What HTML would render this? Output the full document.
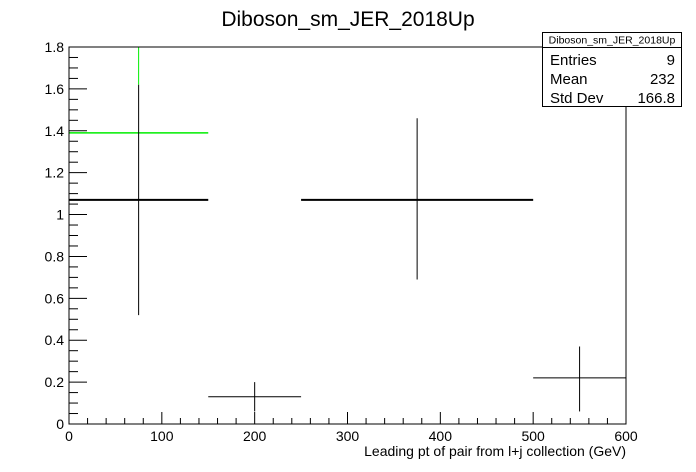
<!DOCTYPE html>
<html><head><meta charset="utf-8"><style>
body{margin:0;background:#fff;}
svg{display:block;font-family:"Liberation Sans",Arial,sans-serif;}
</style></head><body>
<svg width="696" height="472" viewBox="0 0 696 472">
<text x="348" y="26" font-size="21" text-anchor="middle">Diboson_sm_JER_2018Up</text>
<g id="ticks"></g>
<g id="marks"></g>
<rect x="69" y="47" width="557" height="377" fill="none" stroke="#000" stroke-width="1"/>
<text x="626" y="456" font-size="14" text-anchor="end">Leading pt of pair from l+j collection (GeV)</text>
<g>
<rect x="542.5" y="32.5" width="139" height="74" fill="#fff" stroke="#000"/>
<line x1="542.5" y1="47.5" x2="681.5" y2="47.5" stroke="#000"/>
<text x="612" y="43.5" font-size="10.5" text-anchor="middle">Diboson_sm_JER_2018Up</text>
<text x="550" y="65" font-size="15">Entries</text><text x="675" y="65" font-size="15" text-anchor="end">9</text>
<text x="550" y="84" font-size="15">Mean</text><text x="675" y="84" font-size="15" text-anchor="end">232</text>
<text x="550" y="103" font-size="15">Std Dev</text><text x="675" y="103" font-size="15" text-anchor="end">166.8</text>
</g>
</svg>
<script>
const binLow=[0,150,250,500];
const binHigh=[150,250,500,600];
const values=[1.07,0.13,1.07,0.22];
const errLow=[0.52,0.06,0.69,0.06];
const errHigh=[1.62,0.20,1.46,0.37];
const thick=[2,1,2,1];
const greenLow=[0];const greenHigh=[150];const greenValues=[1.39];const greenErrLow=[1.62];const greenErrHigh=[1.95];
const xTicks=[0,100,200,300,400,500,600];
const yTicks=[0,0.2,0.4,0.6,0.8,1,1.2,1.4,1.6,1.8];
const NS='http://www.w3.org/2000/svg';
const X0=69,X1=626,Y0=424,Y1=47,XMAX=600,YMAX=1.8;
const sx=v=>X0+v/XMAX*(X1-X0);
const sy=v=>Y0-v/YMAX*(Y0-Y1);
function mk(tag,at,parent){const e=document.createElementNS(NS,tag);for(const k in at)e.setAttribute(k,at[k]);parent.appendChild(e);return e;}
const T=document.getElementById('ticks'),M=document.getElementById('marks');
for(let v=0;v<=600.001;v+=20){const maj=Math.abs(v/100-Math.round(v/100))<1e-6;const l=mk('line',{x1:sx(v),x2:sx(v),y1:Y0,y2:Y0-(maj?12:6),stroke:'#000'},T);

}
for(let v=0;v<=1.8001;v+=0.05){const maj=Math.abs(v/0.2-Math.round(v/0.2))<1e-6;const l=mk('line',{y1:sy(v),y2:sy(v),x1:X0,x2:X0+(maj?18:9),stroke:'#000'},T);

}
xTicks.forEach(v=>{const t=mk('text',{x:sx(v),y:441,'font-size':14,'text-anchor':'middle'},T);t.textContent=v;

});
yTicks.forEach(v=>{const t=mk('text',{x:64,y:sy(v)+5,'font-size':14,'text-anchor':'end'},T);t.textContent=String(Math.round(v*10)/10);

});
greenValues.forEach((v,i)=>{const g=mk('g',{},M);


const c=(greenLow[i]+greenHigh[i])/2;
mk('line',{x1:sx(greenLow[i]),x2:sx(greenHigh[i]),y1:sy(v),y2:sy(v),stroke:'#00ee00','stroke-width':1.5},g);
mk('line',{x1:sx(c),x2:sx(c),y1:Math.max(Y1,sy(greenErrHigh[i])),y2:sy(greenErrLow[i]),stroke:'#00ee00','stroke-width':1},g);});
values.forEach((v,i)=>{const g=mk('g',{},M);


const c=(binLow[i]+binHigh[i])/2;
mk('line',{x1:sx(binLow[i]),x2:sx(binHigh[i]),y1:sy(v),y2:sy(v),stroke:'#000','stroke-width':thick[i]},g);
mk('line',{x1:sx(c),x2:sx(c),y1:sy(errHigh[i]),y2:sy(errLow[i]),stroke:'#000','stroke-width':1},g);});
</script>
</body></html>
